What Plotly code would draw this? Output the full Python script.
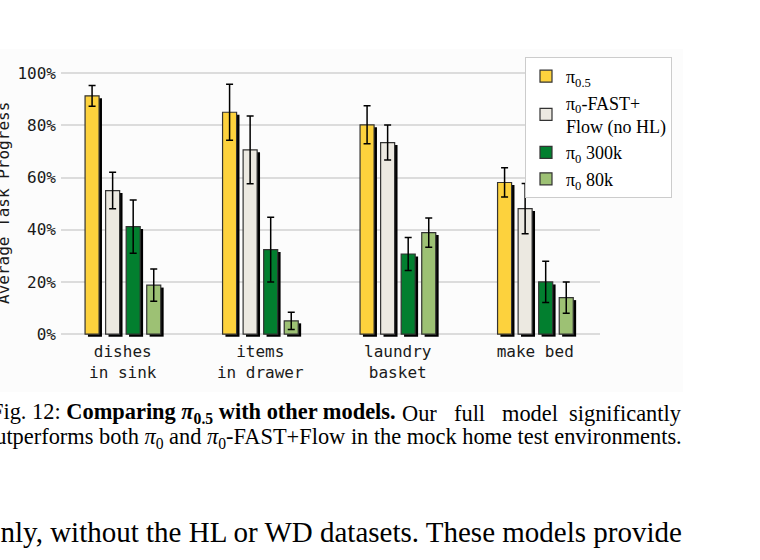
import plotly.graph_objects as go

# ---------------- data ----------------
categories = ["dishes<br>in sink", "items<br>in drawer", "laundry<br>basket", "make bed"]
series_names = ["π<sub>0.5</sub>", "π<sub>0</sub>-FAST+<br>Flow (no HL)", "π<sub>0</sub> 300k", "π<sub>0</sub> 80k"]
pi05 = [91.3, 85.0, 80.2, 58.1]
pi05_err = [4.0, 10.7, 7.3, 5.6]
fast_flow = [55.0, 70.6, 73.4, 48.1]
fast_flow_err = [7.0, 13.0, 6.7, 9.6]
pi0_300k = [41.2, 32.4, 30.7, 20.0]
pi0_300k_err = [10.2, 12.4, 6.3, 7.9]
pi0_80k = [18.8, 5.1, 38.9, 14.0]
pi0_80k_err = [6.2, 3.3, 5.6, 6.0]
y_ticks = [0, 20, 40, 60, 80, 100]
y_ticklabels = ["0%", "20%", "40%", "60%", "80%", "100%"]

values = [pi05, fast_flow, pi0_300k, pi0_80k]
errors = [pi05_err, fast_flow_err, pi0_300k_err, pi0_80k_err]
colors = ["#FDD23D", "#ECE9E1", "#027F2F", "#9DC174"]

# ---------------- style constants ----------------
W, H = 760, 560
PL, PR, PT, PB = 61, 600, 47, 342       # plot area in pixels
XR = [-0.449, 3.471]
YR = [-3, 110]
BAR_W = 0.102
PITCH = 0.1495
FIRST_OFF = -0.274
SH_DX = 0.021   # ~3px
SH_DY = 0.95    # ~2.5px in % units

MONO = "DejaVu Sans Mono"
SERIF = "Liberation Serif"

def px(x):
    return (x - PL) / (PR - PL)

def py(y):
    return (PB - y) / (PB - PT)

fig = go.Figure()

# shadows
for i, vals in enumerate(values):
    fig.add_trace(go.Bar(
        x=categories, y=vals, base=-SH_DY,
        width=BAR_W, offset=FIRST_OFF + i * PITCH + SH_DX,
        marker=dict(color="black", line=dict(width=0)),
        showlegend=False, hoverinfo="skip",
    ))

# bars
for i, (vals, errs) in enumerate(zip(values, errors)):
    fig.add_trace(go.Bar(
        x=categories, y=vals, name=series_names[i],
        width=BAR_W, offset=FIRST_OFF + i * PITCH,
        marker=dict(color=colors[i], line=dict(color="#333333", width=1.2)),
        error_y=dict(type="data", array=errs, color="black", thickness=1.5, width=3.5),
    ))

cap_font = dict(family=SERIF, size=22.4, color="black")

def cap(text, x, y, anchor):
    return dict(text=text, xref="paper", yref="paper", x=px(x), y=py(y),
                xanchor=anchor, yanchor="middle", showarrow=False, font=cap_font)

fig.update_layout(
    width=W, height=H,
    margin=dict(l=PL, r=W - PR, t=PT, b=H - PB),
    barmode="overlay",
    paper_bgcolor="white",
    plot_bgcolor="rgba(0,0,0,0)",
    xaxis=dict(
        range=XR, showgrid=False, zeroline=False, showline=False,
        ticks="", tickfont=dict(family=MONO, size=16, color="#1a1a1a"),
        ticklabelstandoff=-2,
    ),
    yaxis=dict(
        range=YR, tickvals=y_ticks, ticktext=y_ticklabels,
        showgrid=True, gridcolor="#dcdcdc", gridwidth=1.5,
        zeroline=False, showline=False, ticks="",
        tickfont=dict(family=MONO, size=16, color="#1a1a1a"),
        ticklabelstandoff=4,
    ),
    legend=dict(
        x=px(525), y=py(57), xanchor="left", yanchor="top",
        bgcolor="white", bordercolor="#cccccc", borderwidth=1,
        font=dict(family=SERIF, size=18, color="black"),
        traceorder="normal", tracegroupgap=0,
    ),
    shapes=[dict(
        type="rect", xref="paper", yref="paper",
        x0=px(0), x1=px(683), y0=py(392), y1=py(49),
        fillcolor="#fcfcfc", line=dict(width=0), layer="below",
    )],
    annotations=[
        dict(text="Average Task Progress", textangle=-90, xref="paper", yref="paper",
             x=px(3), y=py(203), xanchor="center", yanchor="middle", showarrow=False,
             font=dict(family=MONO, size=16, color="#1a1a1a")),
        cap("Fig. 12: <b>Comparing <i>π</i><sub>0.5</sub> with other models.</b>", -11, 413, "left"),
        cap("Our", 400, 413, "left"),
        cap("full", 452, 413, "left"),
        cap("model", 500, 413, "left"),
        cap("significantly", 684, 413, "right"),
        cap("outperforms both <i>π</i><sub>0</sub> and <i>π</i><sub>0</sub>-FAST+Flow in the mock home test environments.",
            684, 438, "right"),
        dict(text="only, without the HL or WD datasets. These models provide",
             xref="paper", yref="paper", x=px(684), y=py(532), xanchor="right", yanchor="middle",
             showarrow=False, font=dict(family=SERIF, size=29, color="black")),
    ],
)

fig.write_html("out.html")
